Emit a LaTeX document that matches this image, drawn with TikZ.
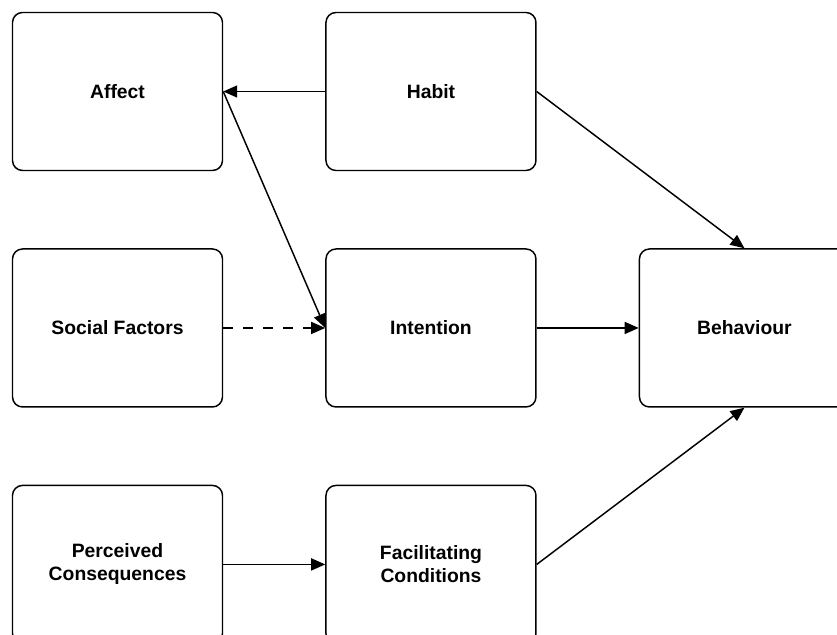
\documentclass[tikz,border=0pt]{standalone}
\usepackage{fontspec}
\setmainfont{Liberation Sans}
\usetikzlibrary{arrows.meta,positioning}

\begin{document}
\begin{tikzpicture}[
    box/.style={draw,line width=1.1pt,rounded corners=7.5pt,minimum width=157.5pt,minimum height=118.5pt,
      align=center,font=\bfseries\fontsize{14.5}{17.25}\selectfont},
    arr/.style={-{Triangle[length=10.5pt,width=9pt]},line width=1.1pt},
    node distance=57.75pt and 76.5pt
  ]
    \useasboundingbox (-88.125pt,68.625pt) rectangle ++(627.75pt,-475.5pt);
    \node[box] (affect) at (0,0) {Affect};
    \node[box,right=of affect] (habit) {Habit};
    \node[box,below=of affect] (social) {Social Factors};
    \node[box,below=of habit] (intention) {Intention};
    \node[box,right=of intention] (behaviour) {Behaviour};
    \node[box,below=of social] (perceived) {Perceived\\Consequences};
    \node[box,below=of intention] (facilitating) {Facilitating\\Conditions};
    \draw[arr](habit)--(affect);
    \draw[arr](affect.east)--(intention.west);
    \draw[arr,dash pattern=on 7.5pt off 7.5pt](social)--(intention);
    \foreach \a/\b in {intention/behaviour,perceived/facilitating}
      \draw[arr](\a)--(\b);
    \draw[arr](habit.east)--(behaviour.north);
    \draw[arr](facilitating.east)--(behaviour.south);
  \end{tikzpicture}
\end{document}
